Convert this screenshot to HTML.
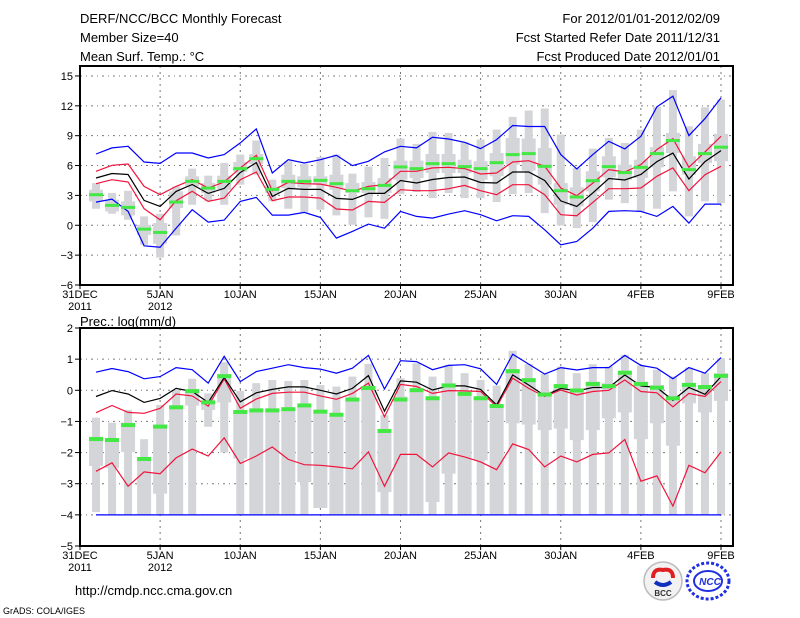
<!DOCTYPE html>
<html><head><meta charset="utf-8"><style>
html,body{margin:0;padding:0;background:#fff;}
svg{display:block;font-family:"Liberation Sans",sans-serif;}
</style></head><body>
<svg id="chart" width="800" height="618" viewBox="0 0 800 618">
<text x="80" y="23" font-size="13">DERF/NCC/BCC Monthly Forecast</text>
<text x="80" y="42" font-size="13">Member Size=40</text>
<text x="80" y="61" font-size="13">Mean Surf. Temp.: °C</text>
<text x="720" y="23" font-size="13" text-anchor="end">For 2012/01/01-2012/02/09</text>
<text x="720" y="42" font-size="13" text-anchor="end">Fcst Started Refer Date 2011/12/31</text>
<text x="720" y="61" font-size="13" text-anchor="end">Fcst Produced Date 2012/01/01</text>
<text x="80" y="326" font-size="13">Prec.: log(mm/d)</text>
<text x="75" y="595" font-size="13">http://cmdp.ncc.cma.gov.cn</text>
<text x="3" y="614" font-size="9">GrADS: COLA/IGES</text>
<g>
<circle cx="663" cy="581" r="19" fill="#f2f2f2" stroke="#bbb" stroke-width="1.5"/>
<path d="M653 578 q0 -10 10 -8 q10 -2 10 8" stroke="#e02020" stroke-width="4" fill="none"/>
<path d="M655 582 q8 6 16 0" stroke="#1030c0" stroke-width="4" fill="none"/>
<text x="663" y="596" font-size="8" font-weight="bold" text-anchor="middle" fill="#333">BCC</text>
</g>
<g>
<ellipse cx="708" cy="581" rx="21" ry="18" fill="none" stroke="#2030e0" stroke-width="3" stroke-dasharray="3 2"/>
<ellipse cx="708" cy="581" rx="14" ry="10" fill="none" stroke="#2030e0" stroke-width="2"/>
<text x="710" y="585" font-size="10" font-weight="bold" font-style="italic" text-anchor="middle" fill="#2030e0">NCC</text>
</g>
<g id="top"></g>
<g id="bot"></g>
</svg>
<script>
// ---- data: temperature panel (°C), days Jan1..Feb9 ----
const xLabels = ["31DEC","5JAN","10JAN","15JAN","20JAN","25JAN","30JAN","4FEB","9FEB"];
const tTicks = [15,12,9,6,3,0,-3,-6];
const pTicks = [2,1,0,-1,-2,-3,-4,-5];
const tMean = [4.75,5.2,5.1,2.5,1.9,3.4,4.1,3.2,3.7,5.3,6.3,2.9,3.7,3.6,3.6,2.7,2.6,3.2,3.2,4.5,4.25,4.6,4.8,4.85,4.3,4.25,5.35,5.35,4.5,2.45,1.9,3.25,4.7,4.55,5.1,6.4,7.25,4.65,6.4,7.5];
const tRedHi = [5.42,6.02,6.16,3.91,3.07,3.91,4.58,3.74,4.35,5.76,7.03,3.47,4.31,4.18,4.14,3.81,3.41,3.91,4.08,5.42,5.42,5.76,5.82,5.69,5.15,5.25,6.36,6.49,5.92,3.74,2.97,4.24,5.59,5.35,6.09,7.6,8.71,5.82,7.37,8.94];
const tRedLo = [4.18,4.58,4.35,1.66,0.55,2.47,3.41,2.4,2.73,4.58,5.35,2.47,2.84,2.84,2.73,1.63,1.53,2.4,2.3,3.57,3.47,3.47,3.67,4.01,3.47,3.07,4.08,4.08,3.07,1.06,0.96,2.3,3.67,3.67,3.74,4.92,5.76,3.47,5.08,5.92];
const tBlueHi = [7.16,7.77,7.93,6.36,6.22,7.26,7.26,6.76,7.1,8.27,9.68,5.25,6.59,6.26,6.59,7.03,5.99,6.43,7.37,7.93,7.77,8.84,8.67,8.34,7.7,8.61,10.02,9.92,9.92,7.1,5.65,7.1,8.44,7.67,8.94,11.9,12.97,9.01,10.72,12.8];
const tBlueLo = [2.33,2.63,1.39,-2.06,-2.2,-0.29,1.56,0.32,0.52,2.4,2.8,1.02,1.02,1.29,0.79,-1.29,-0.62,0.12,-0.29,1.39,0.89,0.72,1.12,1.46,1.06,0.45,0.96,0.89,-0.45,-1.96,-1.63,-0.29,1.39,1.46,1.39,0.89,1.9,0.22,2.13,2.13];
const tMedian = [3.07,2.0,1.8,-0.39,-0.72,2.33,4.41,3.74,4.41,5.69,6.69,3.61,4.41,4.41,4.51,4.18,3.47,3.67,4.01,5.86,5.69,6.19,6.19,5.89,5.69,6.29,7.1,7.2,5.92,3.47,2.84,4.48,5.89,5.29,5.82,7.2,8.51,5.59,7.2,7.84];
const tMax = [4.24,3.24,3.47,0.89,1.16,3.91,5.69,4.98,6.26,7.1,8.51,4.58,6.43,6.16,6.86,7.1,5.18,5.89,6.76,8.71,8.17,9.38,9.28,8.37,8.61,9.61,10.89,11.53,11.73,9.11,5.76,7.7,8.78,8.27,9.61,11.9,13.58,9.95,11.86,12.63];
const tMin = [1.66,1.16,0.55,-1.96,-3.24,-1.02,2.06,2.4,2.06,4.08,5.08,2.4,1.66,1.29,1.56,0.99,0.05,0.79,0.65,3.14,3.34,2.73,3.24,2.73,2.73,2.33,3.14,3.24,1.22,-0.02,-0.29,0.32,2.57,2.23,1.39,1.66,3.41,0.89,2.4,2.23];
const tQ3 = [3.57,2.57,2.4,0.05,0.22,3.41,4.92,4.24,4.98,6.36,7.16,3.91,5.08,4.92,4.92,5.08,4.24,4.35,4.75,6.49,6.49,7.16,7.16,6.59,6.43,7.26,8.78,8.71,7.77,4.24,3.81,5.42,6.93,6.09,6.59,7.84,9.28,6.93,8.17,9.18];
const tQ1 = [2.4,1.39,0.99,-0.96,-1.86,1.73,3.91,3.24,3.57,5.35,6.16,3.24,3.74,3.81,4.08,3.57,3.24,3.24,3.24,4.58,4.75,5.25,5.25,5.25,4.58,4.92,6.09,5.49,4.08,2.06,1.9,3.41,4.82,4.58,4.75,5.82,7.26,5.08,6.26,6.43];
// ---- data: precipitation panel log(mm/d) ----
const pBlueHi = [0.58,0.7,0.6,0.37,0.44,0.73,0.66,0.23,1.09,0.28,0.6,0.71,0.82,0.73,0.68,0.55,0.71,1.12,0.04,0.95,0.92,0.66,0.8,0.82,0.69,0.19,1.16,0.84,0.52,0.73,0.65,0.73,0.73,1.12,0.8,0.71,0.37,0.73,0.55,1.05];
const pMean = [-0.2,-0.01,-0.12,-0.39,-0.26,0.06,-0.04,-0.39,0.41,-0.37,-0.08,0.03,0.11,0.11,0,-0.12,0.06,0.47,-0.67,0.3,0.26,0.01,0.14,0.14,0.03,-0.47,0.49,0.17,-0.17,0.06,-0.02,0.09,0.09,0.49,0.14,0.09,-0.32,0.09,-0.13,0.44];
const pRedHi = [-0.72,-0.49,-0.71,-0.74,-0.58,-0.12,-0.18,-0.51,0.37,-0.58,-0.28,-0.1,-0.06,-0.06,-0.18,-0.29,-0.1,0.23,-0.85,0.19,0.12,-0.1,-0.01,-0.02,-0.04,-0.53,0.39,0.06,-0.2,0.01,-0.15,-0.04,0,0.33,-0.04,-0.08,-0.53,-0.1,-0.2,0.28];
const pRedLo = [-2.6,-2.33,-3.08,-2.62,-2.68,-2.17,-1.89,-2.11,-1.53,-2.35,-2.11,-1.82,-2.22,-2.39,-2.41,-2.46,-2.52,-1.98,-3.08,-2.06,-2.06,-2.46,-2.01,-2.14,-2.3,-2.55,-1.72,-1.9,-2.46,-2.11,-2.3,-2.06,-2.01,-1.58,-2.92,-2.75,-3.72,-2.41,-2.65,-1.98];
const pBlueLo = [-4,-4,-4,-4,-4,-4,-4,-4,-4,-4,-4,-4,-4,-4,-4,-4,-4,-4,-4,-4,-4,-4,-4,-4,-4,-4,-4,-4,-4,-4,-4,-4,-4,-4,-4,-4,-4,-4,-4,-4];
const pMedian = [-1.55,-1.58,-1.1,-2.19,-1.15,-0.53,-0.01,-0.37,0.47,-0.68,-0.63,-0.63,-0.59,-0.47,-0.67,-0.77,-0.28,0.09,-1.29,-0.28,0.02,-0.24,0.17,-0.1,-0.24,-0.49,0.63,0.34,-0.12,0.15,0.01,0.22,0.15,0.58,0.22,0.1,-0.24,0.19,0.12,0.48];
const pMax = [-0.88,-1.04,-0.63,-1.57,-0.47,0.01,0.37,-0.1,0.9,-0.02,0.23,0.33,0.3,0.33,0.17,0.12,0.44,0.85,-0.8,0.39,0.87,0.44,0.82,0.55,0.33,0.15,1.27,0.84,0.52,0.76,0.55,0.84,0.76,1.14,0.8,0.66,0.44,0.73,0.55,1.03];
const pMin = [-3.91,-4,-4,-4,-4,-4,-4,-1.17,-2.0,-4,-4,-4,-4,-4,-3.78,-4,-4,-4,-4,-4,-4,-4,-4,-4,-4,-4,-4,-4,-4,-4,-4,-4,-4,-4,-4,-4,-4,-4,-4,-4];
const pQ3 = [-1.49,-1.55,-1.04,-2.19,-1.1,-0.53,0.01,-0.34,0.52,-0.67,-0.58,-0.58,-0.58,-0.47,-0.63,-0.74,-0.26,0.12,-1.28,-0.2,0.06,-0.2,0.23,-0.04,-0.2,-0.47,0.66,0.39,-0.04,0.17,0.01,0.28,0.23,0.6,0.28,0.17,-0.15,0.17,0.17,0.55];
const pQ1 = [-2.43,-2.49,-1.98,-4,-3.32,-4,-0.49,-0.63,-0.39,-2.19,-4,-4,-4,-2.95,-3.78,-4,-4,-4,-3.27,-4,-4,-3.59,-2.68,-4,-2.25,-4,-1.06,-1.1,-1.28,-1.23,-1.6,-1.28,-0.9,-0.71,-1.57,-1.06,-1.78,-0.42,-0.71,-0.34];

const NS = "http://www.w3.org/2000/svg";
const X0 = 80, X1 = 733;
function xDay(d){ return 80 + d * 16.025; } // d = days after 31DEC
function mk(parent, tag, attrs){
  const e = document.createElementNS(NS, tag);
  for (const k in attrs) e.setAttribute(k, attrs[k]);
  parent.appendChild(e); return e;
}
function panel(g, top, bot, vTop, vBot, ticks, series, boxes, sub){
  const yS = v => top + (vTop - v) * (bot - top) / (vTop - vBot);
  // grid
  ticks.forEach(t => {
    const y = yS(t);
    if (t !== vTop && t !== vBot) {
      const gl = mk(g, "line", {x1:X0, x2:X1, y1:y, y2:y, stroke:"#777", "stroke-width":1, "stroke-dasharray":"2 4 1 4"});
      
      
    }
    const tk = mk(g, "line", {x1:X0-5, x2:X0, y1:y, y2:y, stroke:"#000", "stroke-width":1});
    
    
    const tl = mk(g, "text", {x:X0-7, y:y+4, "font-size":11, "text-anchor":"end"});
    tl.textContent = (t < 0 ? "\u2212" + (-t) : String(t));
    
    
  });
  xLabels.forEach((lab, i) => {
    const x = xDay(i * 5);
    if (i > 0 && i < xLabels.length) {
      const gl = mk(g, "line", {x1:x, x2:x, y1:top, y2:bot, stroke:"#777", "stroke-width":1, "stroke-dasharray":"2 4"});
      
      
    }
    const tk = mk(g, "line", {x1:x, x2:x, y1:bot, y2:bot+4, stroke:"#000"});
    
    
    const tl = mk(g, "text", {x:x, y:bot+13, "font-size":11, "text-anchor":"middle"});
    tl.textContent = lab;
    
    
    if (i < 2) {
      const yl = mk(g, "text", {x:x, y:bot+25, "font-size":11, "text-anchor":"middle"});
      yl.textContent = i === 0 ? "2011" : "2012";
      
      
    }
  });
  // boxes
  for (let i = 0; i < boxes.max.length; i++) {
    const x = xDay(i + 1);
    const w = mk(g, "rect", {x:x-4, y:yS(boxes.max[i]), width:8, height:Math.max(1, yS(boxes.min[i]) - yS(boxes.max[i])), fill:"#d4d5d9"});
    
    
    const b = mk(g, "rect", {x:x-7, y:yS(boxes.q3[i]), width:14, height:Math.max(1, yS(boxes.q1[i]) - yS(boxes.q3[i])), fill:"#d4d5d9"});
    
    
  }
  // lines
  series.forEach(s => {
    const pts = s.data.map((v, i) => xDay(i + 1).toFixed(1) + "," + yS(v).toFixed(1)).join(" ");
    const pl = mk(g, "polyline", {points:pts, fill:"none", stroke:s.color, "stroke-width":1.2});
    
    
  });
  // medians
  for (let i = 0; i < boxes.med.length; i++) {
    const x = xDay(i + 1);
    const m = mk(g, "rect", {x:x-7, y:yS(boxes.med[i]) - 1.5, width:14, height:sub === 'prec' ? 4 : 3, fill:"#44e844"});
    
    
  }
  const fr = mk(g, "rect", {x:X0, y:top, width:X1 - X0, height:bot - top, fill:"none", stroke:"#000", "stroke-width":2});
  
  
}
panel(document.getElementById("top"), 76 - 10, 285, 16, -6, tTicks, [
  {data:tBlueHi, color:"#0000ff", name:"temp-blue-upper-line"},
  {data:tBlueLo, color:"#0000ff", name:"temp-blue-lower-line"},
  {data:tRedHi, color:"#f0143c", name:"temp-red-upper-line"},
  {data:tRedLo, color:"#f0143c", name:"temp-red-lower-line"},
  {data:tMean, color:"#000000", name:"temp-mean-line"}
], {max:tMax, min:tMin, q3:tQ3, q1:tQ1, med:tMedian}, 'temp');
panel(document.getElementById("bot"), 328, 546, 2, -5, pTicks, [
  {data:pBlueHi, color:"#0000ff", name:"prec-blue-upper-line"},
  {data:pBlueLo, color:"#0000ff", name:"prec-blue-lower-line"},
  {data:pRedHi, color:"#f0143c", name:"prec-red-upper-line"},
  {data:pRedLo, color:"#f0143c", name:"prec-red-lower-line"},
  {data:pMean, color:"#000000", name:"prec-mean-line"}
], {max:pMax, min:pMin, q3:pQ3, q1:pQ1, med:pMedian}, 'prec');
</script>
</body></html>
